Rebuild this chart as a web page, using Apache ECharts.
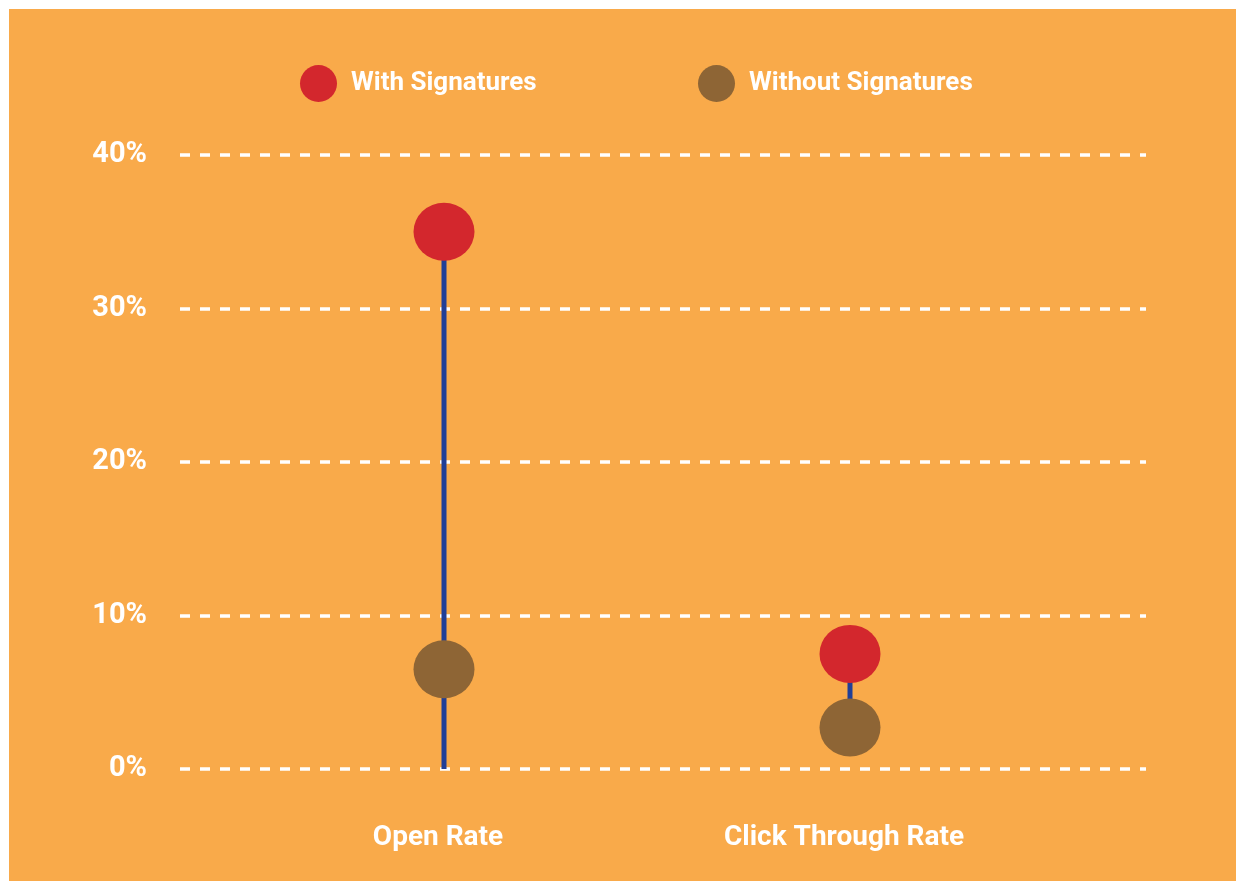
<!DOCTYPE html>
<html>
<head>
<meta charset="utf-8">
<script src="https://cdn.jsdelivr.net/npm/echarts@6/dist/echarts.min.js"></script>
<style>
  html, body { margin: 0; padding: 0; background: #ffffff; }
  #chart { position: absolute; left: 9px; top: 9px; width: 1227px; height: 872px; background: #F9AA4A; }
</style>
</head>
<body>
<div id="chart"></div>
<script>
// ---- data ----
const categories = ['Open Rate', 'Click Through Rate'];
const withSignatures = [35, 7.5];
const withoutSignatures = [6.5, 2.7];
const stemLow = [0, 2.7];
const stemHigh = [35, 7.5];
const yTicks = [0, 10, 20, 30, 40];

const FONT = "'Liberation Sans Narrow', 'Arial Narrow', 'Roboto', 'Liberation Sans', sans-serif";
const ELLIPSE = 'path://M50,0A50,50,0,1,1,50,100A50,50,0,1,1,50,0Z';

const chart = echarts.init(document.getElementById('chart'), null, { renderer: 'canvas' });

const stemSpan = stemHigh.map((h, i) => h - stemLow[i]);

const legendText = { color: '#ffffff', fontFamily: FONT, fontWeight: 'bold', fontSize: 26, padding: [4, 0, 0, 8] };

const option = {
  backgroundColor: '#F9AA4A',
  animation: false,
  legend: [
    {
      left: 286, top: 51, padding: 5,
      data: ['With Signatures'],
      icon: ELLIPSE, itemWidth: 39, itemHeight: 37,
      textStyle: legendText
    },
    {
      left: 684, top: 51, padding: 5,
      data: ['Without Signatures'],
      icon: ELLIPSE, itemWidth: 39, itemHeight: 37,
      textStyle: legendText
    }
  ],
  grid: [
    { left: 171, right: 90, top: 146, bottom: 112 },
    { left: 232, right: 183, top: 146, bottom: 112 }
  ],
  xAxis: [
    { gridIndex: 0, type: 'value', show: false, min: 0, max: 1 },
    {
      gridIndex: 1, type: 'category', data: categories,
      axisLine: { show: false }, axisTick: { show: false },
      axisLabel: { color: '#ffffff', fontFamily: FONT, fontWeight: 'bold', fontSize: 28, margin: 55, padding: [0, 12, 0, 0] }
    }
  ],
  yAxis: [
    {
      gridIndex: 0, type: 'value', min: yTicks[0], max: yTicks[yTicks.length - 1], interval: 10,
      axisLine: { show: false }, axisTick: { show: false },
      axisLabel: { color: '#ffffff', fontFamily: FONT, fontWeight: 'bold', fontSize: 29, margin: 33, formatter: '{value}%', padding: [6, 0, 0, 0] },
      splitLine: { show: true, lineStyle: { color: '#ffffff', width: 3.5, type: [10, 10] } }
    },
    {
      gridIndex: 1, type: 'value', min: yTicks[0], max: yTicks[yTicks.length - 1], interval: 10,
      show: false, splitLine: { show: false }
    }
  ],
  series: [
    {
      type: 'bar', xAxisIndex: 1, yAxisIndex: 1, stack: 'stem', data: stemLow,
      barWidth: 5, itemStyle: { color: 'transparent' }, silent: true, z: 1
    },
    {
      type: 'bar', xAxisIndex: 1, yAxisIndex: 1, stack: 'stem', data: stemSpan,
      barWidth: 5, itemStyle: { color: '#213F97' }, silent: true, z: 1
    },
    {
      name: 'With Signatures', type: 'scatter', xAxisIndex: 1, yAxisIndex: 1,
      data: withSignatures, symbol: ELLIPSE, symbolSize: [61, 58],
      itemStyle: { color: '#D3272D', opacity: 1 }, z: 3
    },
    {
      name: 'Without Signatures', type: 'scatter', xAxisIndex: 1, yAxisIndex: 1,
      data: withoutSignatures, symbol: ELLIPSE, symbolSize: [61, 58],
      itemStyle: { color: '#8E6535', opacity: 1 }, z: 3
    }
  ]
};
chart.setOption(option);
</script>
</body>
</html>
